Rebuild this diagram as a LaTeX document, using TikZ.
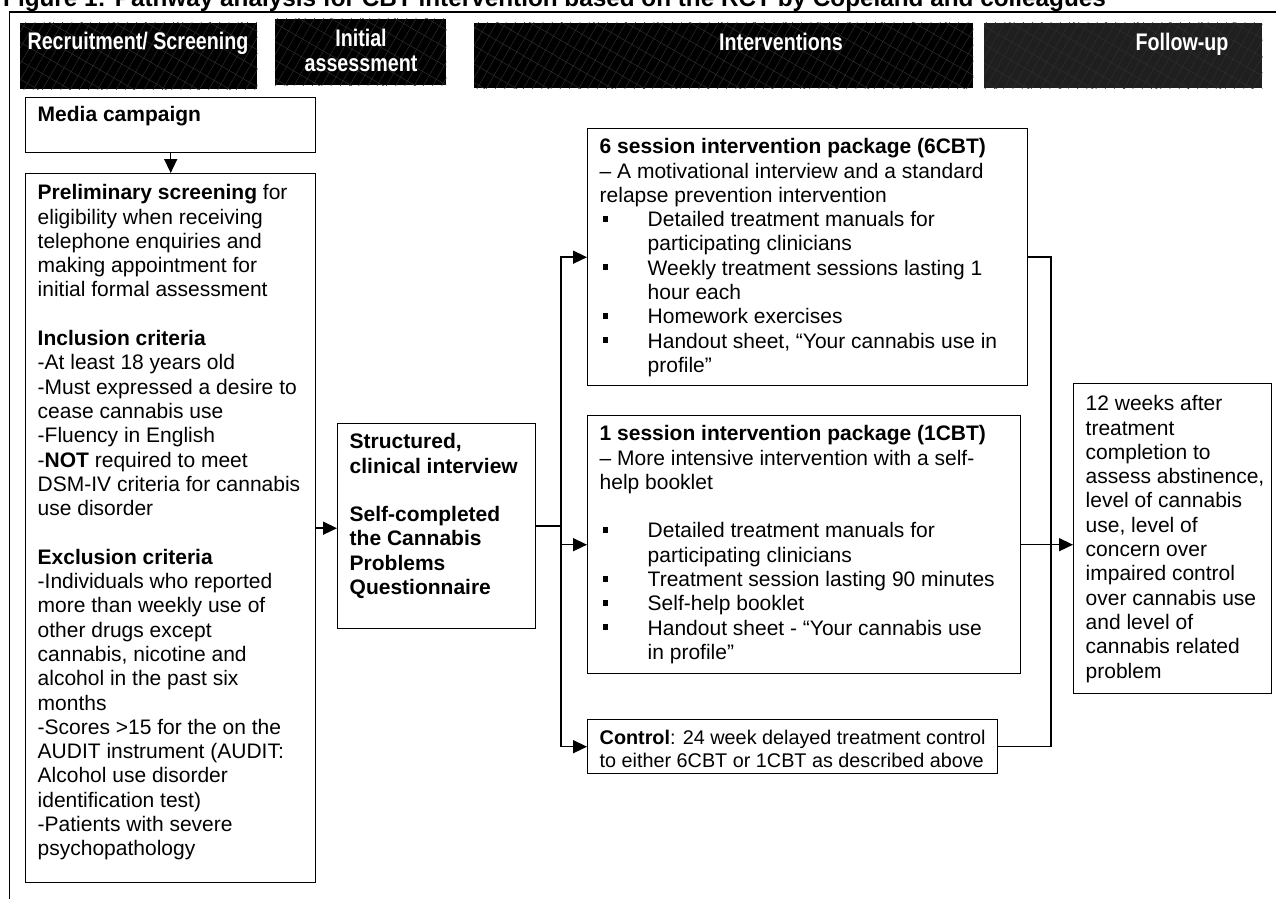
\documentclass[tikz,border=0pt]{standalone}
\usepackage{fontspec}
\setmainfont{Liberation Sans}
\usetikzlibrary{arrows.meta,patterns.meta,calc}
\newcommand\bul{\makebox[48pt][l]{\hspace{3pt}\rule[5pt]{5.5pt}{6pt}}}
\newcommand\ind{\hspace*{48pt}}
\newcommand\boxtxt[4]{\begin{minipage}[t][#2][t]{#1}\raggedright\fontsize{21pt}{24.3pt}\selectfont\rule{0pt}{#3}#4\end{minipage}}
\newcommand\smallboxtxt[4]{\begin{minipage}[t][#2][t]{#1}\raggedright\fontsize{19.8pt}{23pt}\selectfont\rule{0pt}{#3}#4\end{minipage}}
\newcommand\hdr[1]{\scalebox{0.82}[1]{\fontsize{24pt}{24pt}\selectfont\bfseries #1}}
\begin{document}
\begin{tikzpicture}[x=1pt,y=-1pt,
  box/.style={draw, rectangle, line width=1.4pt, inner xsep=12pt, inner ysep=0pt, anchor=north west, fill=white},
  hbox/.style={rectangle, inner sep=0pt, anchor=north west, fill=black},
  htext/.style={anchor=base, inner sep=0pt, text=white},
  conn/.style={line width=1.5pt},
  arr/.style={conn, -{Triangle[length=14pt,width=13pt]}},
  pat1/.style={pattern={Lines[angle=60,distance=8pt,line width=0.5pt]}, pattern color=black!82!white},
  pat2/.style={pattern={Lines[angle=-30,distance=16pt,line width=0.5pt]}, pattern color=black!82!white}]
\useasboundingbox (0,0) rectangle (1276,899);
\clip (0,0) rectangle (1276,899);
\fill[white] (0,0) rectangle (1276,899);
% title
\node[anchor=base west, inner sep=0pt, font=\fontsize{24.3pt}{26pt}\selectfont\bfseries] (title) at (3,7)
  {Figure 1: Pathway analysis for CBT intervention based on the RCT by Copeland and colleagues};
% frame
\draw[line width=2pt] (9,12) -- (1276,12);
\draw[line width=1pt] (9,12) -- (9,899);
% headers
\node[hbox, minimum width=237pt, minimum height=66pt] (h1) at (20,23) {};
\node[hbox, minimum width=171pt, minimum height=66pt] (h2) at (275,19) {};
\node[hbox, minimum width=499pt, minimum height=65pt] (h3) at (474,23) {};
\node[hbox, minimum width=278pt, minimum height=65pt, fill=black!88!white] (h4) at (984,23) {};
\foreach \h in {h1,h2,h3,h4}{
  \path[pat1] (\h.north west) rectangle (\h.south east);
  \path[pat2] (\h.north west) rectangle (\h.south east);
}
\node[htext] (h1t) at (138,50) {\hdr{Recruitment/ Screening}};
\node[htext] (h2a) at (361,47) {\hdr{Initial}};
\node[htext] (h2b) at (361,71) {\hdr{assessment}};
\node[htext] (h3t) at (781,51) {\hdr{Interventions}};
\node[htext] (h4t) at (1182,51) {\hdr{Follow-up}};
% boxes
\node[box] (media) at (25,97) {\boxtxt{266pt}{55pt}{24pt}{\textbf{Media campaign}}};
\node[box] (prelim) at (25,173) {\boxtxt{266pt}{709pt}{26pt}{%
\textbf{Preliminary screening} for\\
eligibility when receiving\\
telephone enquiries and\\
making appointment for\\
initial formal assessment\\[24.3pt]
\textbf{Inclusion criteria}\\
-At least 18 years old\\
-Must expressed a desire to\\
cease cannabis use\\
-Fluency in English\\
-\textbf{NOT} required to meet\\
DSM-IV criteria for cannabis\\
use disorder\\[24.3pt]
\textbf{Exclusion criteria}\\
-Individuals who reported\\
more than weekly use of\\
other drugs except\\
cannabis, nicotine and\\
alcohol in the past six\\
months\\
-Scores >15 for the on the\\
AUDIT instrument (AUDIT:\\
Alcohol use disorder\\
identification test)\\
-Patients with severe\\
psychopathology}};
\node[box] (str) at (337,423) {\boxtxt{174pt}{205pt}{25pt}{\textbf{Structured,\\
clinical interview\\[24.3pt]
Self-completed\\
the Cannabis\\
Problems\\
Questionnaire}}};
\node[box] (cbt6) at (587,128) {\boxtxt{416pt}{257pt}{25pt}{%
\textbf{6 session intervention package (6CBT)}\\
– A motivational interview and a standard\\
relapse prevention intervention\\
\bul Detailed treatment manuals for\\
\ind participating clinicians\\
\bul Weekly treatment sessions lasting 1\\
\ind hour each\\
\bul Homework exercises\\
\bul Handout sheet, “Your cannabis use in\\
\ind profile”}};
\node[box] (cbt1) at (587,415) {\boxtxt{409pt}{258pt}{25pt}{%
\textbf{1 session intervention package (1CBT)}\\
– More intensive intervention with a self-\\
help booklet\\[24.3pt]
\bul Detailed treatment manuals for\\
\ind participating clinicians\\
\bul Treatment session lasting 90 minutes\\
\bul Self-help booklet\\
\bul Handout sheet - “Your cannabis use\\
\ind in profile”}};
\node[box] (ctrl) at (587,719) {\smallboxtxt{386pt}{54pt}{25pt}{%
\textbf{Control}: 24 week delayed treatment control\\
to either 6CBT or 1CBT as described above}};
\node[box] (fu) at (1073,383) {\boxtxt{174pt}{310pt}{27pt}{%
12 weeks after\\
treatment\\
completion to\\
\mbox{assess abstinence,}\\
level of cannabis\\
use, level of\\
concern over\\
impaired control\\
over cannabis use\\
and level of\\
cannabis related\\
problem}};
% connectors
\coordinate (trunk) at (561,0);
\coordinate (bus) at (1051,0);
\draw[arr] (media.south) -- (prelim.north);
\draw[arr] (prelim.east) -- (prelim.east -| str.west);
\draw[arr] (str.east) -| (trunk |- cbt6.west) -- (cbt6.west);
\draw[arr] (str.east) -| (trunk |- cbt1.west) -- (cbt1.west);
\draw[arr] (str.east) -| (trunk |- ctrl.west) -- (ctrl.west);
\draw[conn] (cbt6.east) -| (bus |- ctrl.east) -- (ctrl.east);
\draw[arr] (cbt1.east) -- (cbt1.east -| fu.west);
\end{tikzpicture}
\end{document}
